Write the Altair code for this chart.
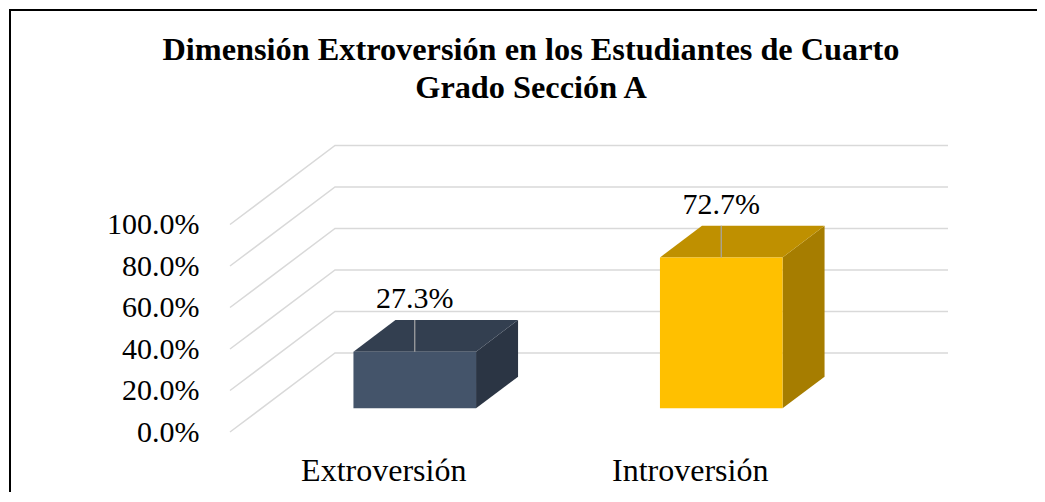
import altair as alt
import pandas as pd

# ---------------- data ----------------
categories = ["Extroversión", "Introversión"]
values = [0.273, 0.727]
y_ticks = [0.0, 0.2, 0.4, 0.6, 0.8, 1.0]
title_lines = ["Dimensión Extroversión en los Estudiantes de Cuarto", "Grado Sección A"]

front_colors = ["#44546A", "#FFC000"]
top_colors = ["#333F50", "#BF9000"]
side_colors = ["#2B3544", "#A67D00"]

# ---------------- 3D projection (data units) ----------------
DX = 0.3426      # horizontal shift of back wall, category units
DY = 0.3807      # vertical shift of back wall, value units
BAR_W = 0.4      # bar width, category units
D0, D1 = 0.3, 0.7  # bar depth range (fraction of full depth)

# ---------------- view geometry ----------------
W, H = 1042, 500
X_PX = 306.5     # px per category
Y_PX = 207.5     # px per 100 %
x_dom = [-220 / X_PX, -220 / X_PX + W / X_PX]
y_dom = [-78 / Y_PX, -78 / Y_PX + H / Y_PX]

# grid lines (front-left -> back-left -> back-right)
grid_rows = []
for t in y_ticks:
    grid_rows.append({"tick": t, "o": 0, "x": 0.0, "y": t})
    grid_rows.append({"tick": t, "o": 1, "x": DX, "y": t + DY})
    grid_rows.append({"tick": t, "o": 2, "x": len(categories) + DX, "y": t + DY})
grid_df = pd.DataFrame(grid_rows)

front_rows, top_rows, side_rows, lab_rows = [], [], [], []
ddx, ddy = (D1 - D0) * DX, (D1 - D0) * DY
for i, (cat, v) in enumerate(zip(categories, values)):
    c = i + 0.5
    xl = c - BAR_W / 2 + D0 * DX
    xr = xl + BAR_W
    yb = D0 * DY
    yt = yb + v
    front_rows.append({"cat": cat, "x": xl, "x2": xr, "y": yb, "y2": yt, "fill": front_colors[i]})
    top_rows.append({"cat": cat, "y": yt, "x": xl, "x2": xr, "fill": top_colors[i]})
    top_rows.append({"cat": cat, "y": yt + ddy, "x": xl + ddx, "x2": xr + ddx, "fill": top_colors[i]})
    side_rows.append({"cat": cat, "x": xr, "y": yb, "y2": yt, "fill": side_colors[i]})
    side_rows.append({"cat": cat, "x": xr + ddx, "y": yb + ddy, "y2": yt + ddy, "fill": side_colors[i]})
    lab_rows.append({"cat": cat, "x": (xl + xr) / 2, "y": yt, "y2": yt + ddy, "v": v})

front_df = pd.DataFrame(front_rows)
top_df = pd.DataFrame(top_rows)
side_df = pd.DataFrame(side_rows)
lab_df = pd.DataFrame(lab_rows)

FONT = "Liberation Serif"
xs = alt.Scale(domain=x_dom, nice=False, zero=False)
ys = alt.Scale(domain=y_dom, nice=False, zero=False)

cat_js = "[" + ",".join("'" + c + "'" for c in categories) + "]"
x_axis = alt.Axis(
    values=[i + 0.5 for i in range(len(categories))],
    labelExpr=cat_js + "[floor(datum.value)]",
    orient="bottom", offset=-30, labelPadding=0, labelBaseline="alphabetic",
    labelFont=FONT, labelFontSize=32, labelColor="#000000",
    domain=False, ticks=False, grid=False, title=None, labelOverlap=False, labelFlush=False,
)
y_axis = alt.Axis(
    values=y_ticks, format=".1%", orient="left", offset=-189, labelPadding=0,
    labelFont=FONT, labelFontSize=30, labelColor="#000000",
    domain=False, ticks=False, grid=False, title=None,
)


def X(f):
    return alt.X(f, type="quantitative", scale=xs, axis=x_axis)


def Y(f):
    return alt.Y(f, type="quantitative", scale=ys, axis=y_axis)


grid = alt.Chart(grid_df).mark_line(color="#D9D9D9", strokeWidth=1.5).encode(
    x=X("x"), y=Y("y"), detail="tick:N", order="o:Q"
)

side = alt.Chart(side_df).mark_area(orient="vertical").encode(
    x=X("x"), y=Y("y"), y2="y2", detail="cat:N", color=alt.Color("fill:N", scale=None)
)

top = alt.Chart(top_df).mark_area(orient="horizontal").encode(
    y=Y("y"), x=X("x"), x2="x2", detail="cat:N", color=alt.Color("fill:N", scale=None)
)

front = alt.Chart(front_df).mark_rect().encode(
    x=X("x"), x2="x2", y=Y("y"), y2="y2", color=alt.Color("fill:N", scale=None)
)

leader = alt.Chart(lab_df).mark_rule(color="#A6A6A6", strokeWidth=1.2).encode(
    x=X("x"), y=Y("y"), y2="y2"
)

labels = alt.Chart(lab_df).mark_text(
    font=FONT, fontSize=30, color="#000000", baseline="alphabetic", align="center", dy=-12
).encode(x=X("x"), y=Y("y2"), text=alt.Text("v:Q", format=".1%"))

chart = alt.layer(grid, side, top, front, leader, labels).properties(
    width=W,
    height=H,
    background="#FFFFFF",
    title=alt.TitleParams(
        text=title_lines, font=FONT, fontSize=32.3, fontWeight="bold", color="#000000",
        anchor="middle", frame="group", offset=-94, lineHeight=38,
    ),
    autosize=alt.AutoSizeParams(type="none"),
    padding={"left": 2, "top": 2, "right": -15, "bottom": -18},
).configure(font=FONT).configure_view(stroke="#000000", strokeWidth=2)

chart.save("out.html", embed_options={"renderer": "svg", "actions": False})
